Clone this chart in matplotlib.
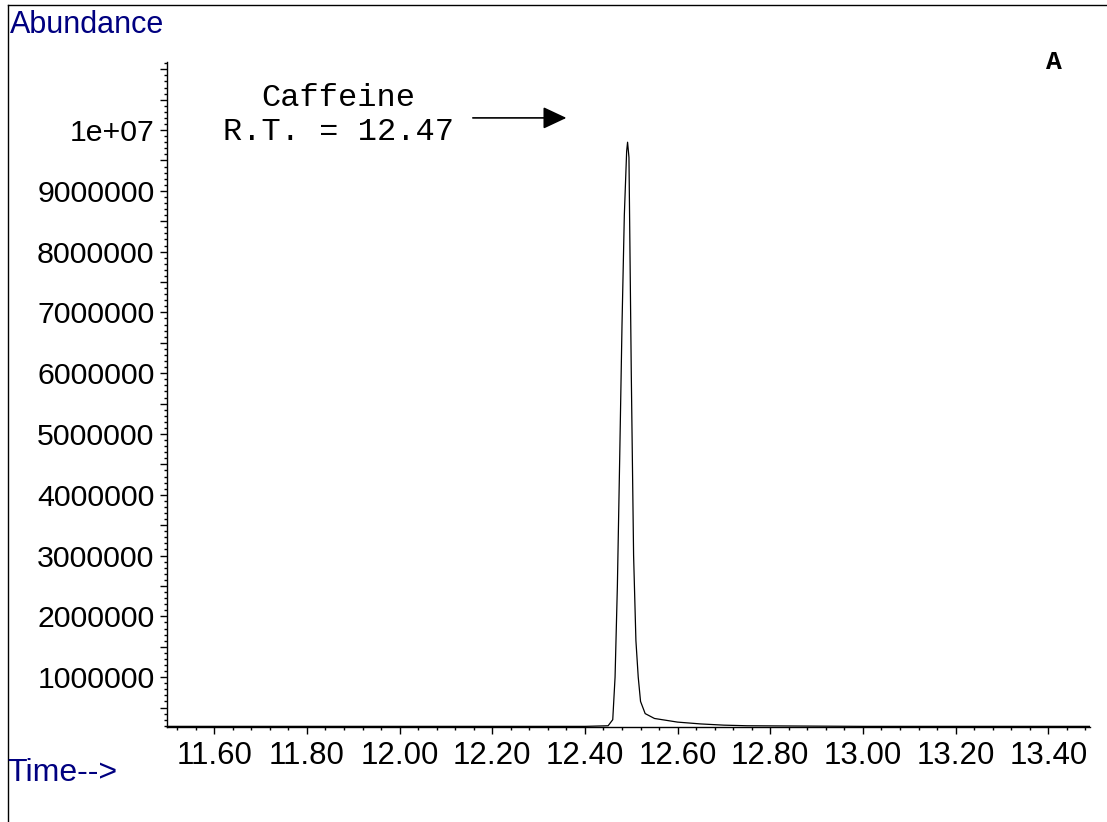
import matplotlib
matplotlib.use('Agg')
import matplotlib.pyplot as plt
from matplotlib.ticker import MultipleLocator, FuncFormatter

# chromatogram trace (time in min, abundance)
times = [11.50, 12.00, 12.40, 12.45, 12.46, 12.465, 12.47, 12.475, 12.48,
         12.485, 12.49, 12.492, 12.495, 12.50, 12.505, 12.51, 12.515,
         12.52, 12.53, 12.55, 12.60, 12.65, 12.70, 12.75, 13.00, 13.49]
abundance = [190000, 190000, 190000, 200000, 300000, 1000000, 2500000,
             4600000, 6800000, 8600000, 9650000, 9800000, 9550000, 6000000,
             3000000, 1600000, 1000000, 600000, 400000, 320000, 260000,
             230000, 210000, 200000, 190000, 190000]

peak_name = 'Caffeine'
peak_rt = 12.47
panel = 'A'

navy = '#000080'
mono = ['Liberation Mono', 'DejaVu Sans Mono']
sans = ['Liberation Sans', 'DejaVu Sans']

fig = plt.figure(figsize=(11.07, 8.22), dpi=100)
ax = fig.add_axes([0.1509, 0.1156, 0.8337, 0.809])

ax.plot(times, abundance, color='black', lw=0.9)

ax.set_xlim(11.498, 13.49)
ax.set_ylim(180000, 11120000)

ax.spines['top'].set_visible(False)
ax.spines['right'].set_visible(False)
for s in ('left', 'bottom'):
    ax.spines[s].set_linewidth(1.0)

ax.xaxis.set_major_locator(MultipleLocator(0.2))
ax.xaxis.set_minor_locator(MultipleLocator(0.04))
ax.xaxis.set_major_formatter(FuncFormatter(lambda v, p: f'{v:.2f}'))

ax.yaxis.set_major_locator(MultipleLocator(500000))
ax.yaxis.set_minor_locator(MultipleLocator(100000))


def yfmt(v, p):
    if abs(v / 1e6 - round(v / 1e6)) > 1e-6 or v > 1.01e7:
        return ''
    if v >= 1e7 - 1:
        return '1e+07'
    return f'{v:.0f}'


ax.yaxis.set_major_formatter(FuncFormatter(yfmt))

ax.tick_params(axis='both', which='major', length=5, width=1, direction='out')
ax.tick_params(axis='x', which='major', labelsize=22.5, pad=5)
ax.tick_params(axis='y', which='major', labelsize=21.8, pad=4)
ax.tick_params(axis='both', which='minor', length=2.5, width=1, direction='out')
for lab in ax.get_xticklabels() + ax.get_yticklabels():
    lab.set_fontfamily(sans)

ax.annotate('', xy=(12.366, 10200000), xytext=(12.152, 10200000),
            arrowprops=dict(arrowstyle='-|>,head_length=1.45,head_width=0.68',
                            color='black', lw=1.2))
ax.text(11.867, 10250000, f'{peak_name}\nR.T. = {peak_rt:.2f}',
        ha='center', va='center', fontsize=23, family=mono,
        linespacing=1.15)

fig.text(0.952, 0.924, panel, ha='center', va='center', fontsize=19,
         family=mono, fontweight='bold')
fig.text(0.009, 0.969, 'Abundance', ha='left', va='center', fontsize=22,
         family=sans, color=navy)
fig.text(0.007, 0.060, 'Time-->', ha='left', va='center', fontsize=23,
         family=sans, color=navy)

# frame lines at the top and left edge
fig.add_artist(plt.Line2D([0.0075, 0.0075], [0.0, 0.994], color='black',
                          lw=1.0, transform=fig.transFigure))
fig.add_artist(plt.Line2D([0.0075, 1.0], [0.994, 0.994], color='black',
                          lw=1.0, transform=fig.transFigure))

fig.savefig('out.png', dpi=100)
